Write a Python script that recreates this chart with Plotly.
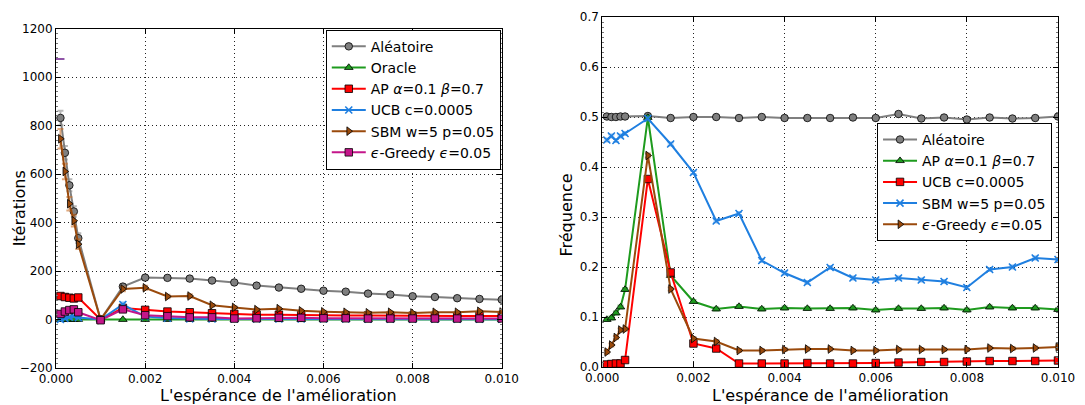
import plotly.graph_objects as go

# ---------------- data ----------------
xs = [0.0001, 0.0002, 0.0003, 0.0004, 0.0005, 0.001, 0.0015, 0.002, 0.0025, 0.003,
      0.0035, 0.004, 0.0045, 0.005, 0.0055, 0.006, 0.0065, 0.007, 0.0075, 0.008,
      0.0085, 0.009, 0.0095, 0.01]

# Left panel: iterations
it_alea = [832, 688, 554, 446, 336, 0, 136, 173, 172, 169, 161, 153, 140, 132, 127, 119,
           115, 107, 103, 96, 93, 88, 85, 82]
it_oracle = [0, 0, 0, 0, 0, 0, 0, 0, 0, 0, 0, 0, 0, 0, 0, 0, 0, 0, 0, 0, 0, 0, 0, 0]
it_ap = [97, 93, 90, 87, 91, 0, 48, 40, 33, 30, 26, 23, 20, 20, 18, 18, 17, 17, 16, 16,
         15, 15, 15, 15]
it_ucb = [0, 5, 10, 14, 8, 0, 62, 12, 6, 3, 2, 2, 2, 2, 2, 2, 2, 1, 1, 1, 1, 1, 1, 1]
it_sbm = [746, 611, 478, 408, 311, 0, 126, 131, 95, 97, 59, 50, 41, 45, 36, 32, 30, 28,
          30, 27, 30, 30, 34, 31]
it_eps = [23, 33, 39, 42, 30, -3, 42, 18, 14, 9, 9, 4, 5, 7, 7, 5, 5, 4, 4, 4, 4, 4, 4, 4]

err_alea = [30, 28, 25, 22, 20, 3, 10, 8, 7, 7, 6, 6, 6, 5, 5, 5, 5, 5, 5, 5, 5, 5, 5, 5]
err_oracle = [1, 1, 1, 1, 1, 1, 1, 1, 1, 1, 1, 1, 1, 1, 1, 1, 1, 1, 1, 1, 1, 1, 1, 1]
err_ap = [5, 5, 5, 5, 5, 2, 5, 4, 4, 4, 3, 3, 3, 3, 3, 3, 3, 3, 3, 3, 3, 3, 3, 3]
err_ucb = [3, 3, 4, 4, 3, 1, 8, 3, 2, 2, 1, 1, 1, 1, 1, 1, 1, 1, 1, 1, 1, 1, 1, 1]
err_sbm = [40, 32, 28, 24, 20, 3, 9, 8, 7, 7, 5, 5, 4, 4, 4, 4, 4, 4, 4, 4, 4, 4, 4, 4]
err_eps = [5, 5, 6, 6, 5, 2, 6, 4, 3, 3, 2, 2, 2, 2, 2, 2, 2, 2, 2, 2, 2, 2, 2, 2]

stray_x = [0.00008]
stray_y = [1075]

# Right panel: frequency
fr_alea = [0.501, 0.500, 0.500, 0.501, 0.501, 0.502, 0.498, 0.500, 0.500, 0.498, 0.500,
           0.498, 0.498, 0.498, 0.499, 0.498, 0.506, 0.497, 0.499, 0.495, 0.499, 0.497,
           0.498, 0.501]
fr_ap = [0.095, 0.098, 0.108, 0.120, 0.155, 0.499, 0.183, 0.131, 0.116, 0.121, 0.116,
         0.118, 0.117, 0.117, 0.118, 0.114, 0.117, 0.117, 0.118, 0.114, 0.120, 0.118,
         0.118, 0.115]
fr_ucb = [0.005, 0.006, 0.007, 0.007, 0.014, 0.376, 0.189, 0.047, 0.037, 0.007, 0.007,
          0.007, 0.008, 0.007, 0.007, 0.008, 0.009, 0.010, 0.010, 0.011, 0.012, 0.012,
          0.012, 0.013]
fr_sbm = [0.454, 0.462, 0.453, 0.462, 0.467, 0.497, 0.446, 0.389, 0.292, 0.307, 0.213,
          0.188, 0.169, 0.199, 0.178, 0.174, 0.178, 0.174, 0.171, 0.159, 0.195, 0.200,
          0.218, 0.215]
fr_eps = [0.030, 0.044, 0.059, 0.074, 0.076, 0.423, 0.156, 0.057, 0.051, 0.033, 0.033,
          0.035, 0.036, 0.036, 0.033, 0.033, 0.035, 0.035, 0.035, 0.035, 0.038, 0.037,
          0.038, 0.040]
fr_err = [0.003, 0.003, 0.003, 0.003, 0.003, 0.004, 0.003, 0.003, 0.003, 0.003, 0.003,
          0.003, 0.003, 0.003, 0.003, 0.003, 0.003, 0.003, 0.003, 0.003, 0.003, 0.003,
          0.003, 0.003]

left_names = ["Aléatoire", "Oracle", "AP <i>α</i>=0.1 <i>β</i>=0.7", "UCB c=0.0005",
              "SBM w=5 p=0.05", "<i>ϵ</i>-Greedy <i>ϵ</i>=0.05"]
right_names = ["Aléatoire", "AP <i>α</i>=0.1 <i>β</i>=0.7", "UCB c=0.0005",
               "SBM w=5 p=0.05", "<i>ϵ</i>-Greedy <i>ϵ</i>=0.05"]

x_ticks = [0.0, 0.002, 0.004, 0.006, 0.008, 0.010]
x_title = "L'espérance de l'amélioration"

# ---------------- styles ----------------
GREY = "#7f7f7f"
GREEN = "#1e9b1e"
RED = "#ff0000"
BLUE = "#1f7fe0"
BROWN = "#9a4a0c"
MAG = "#c4168a"

sty = {
    "grey": dict(color=GREY, symbol="circle", err="rgba(127,127,127,0.55)"),
    "green": dict(color=GREEN, symbol="triangle-up", err="rgba(30,155,30,0.55)"),
    "red": dict(color=RED, symbol="square", err="rgba(255,0,0,0.45)"),
    "blue": dict(color=BLUE, symbol="x-thin", err="rgba(31,127,224,0.5)"),
    "brown": dict(color=BROWN, symbol="triangle-right", err="rgba(200,110,40,0.6)"),
    "mag": dict(color=MAG, symbol="square", err="rgba(196,22,138,0.5)"),
}

FONT = "DejaVu Sans"
fig = go.Figure()


def add(x, y, err, name, key, xa, ya, legend):
    s = sty[key]
    if s["symbol"] == "x-thin":
        marker = dict(symbol="x-thin", size=7, color=s["color"],
                      line=dict(color=s["color"], width=1.6))
    else:
        marker = dict(symbol=s["symbol"], size=7.5, color=s["color"],
                      line=dict(color="black", width=0.8))
    fig.add_trace(go.Scatter(
        x=x, y=y, name=name, mode="lines+markers",
        line=dict(color=s["color"], width=2), marker=marker,
        error_y=dict(type="data", array=err, visible=True, color=s["err"],
                     thickness=2, width=3),
        xaxis=xa, yaxis=ya, legend=legend))


add(xs, it_alea, err_alea, left_names[0], "grey", "x", "y", "legend")
add(xs, it_oracle, err_oracle, left_names[1], "green", "x", "y", "legend")
add(xs, it_ap, err_ap, left_names[2], "red", "x", "y", "legend")
add(xs, it_ucb, err_ucb, left_names[3], "blue", "x", "y", "legend")
add(xs, it_sbm, err_sbm, left_names[4], "brown", "x", "y", "legend")
add(xs, it_eps, err_eps, left_names[5], "mag", "x", "y", "legend")

fig.add_trace(go.Scatter(x=stray_x, y=stray_y, mode="markers", showlegend=False,
                         marker=dict(symbol="line-ew", size=7,
                                     line=dict(color="#6a1b8a", width=1.5)),
                         xaxis="x", yaxis="y", hoverinfo="skip"))

add(xs, fr_alea, fr_err, right_names[0], "grey", "x2", "y2", "legend2")
add(xs, fr_ap, fr_err, right_names[1], "green", "x2", "y2", "legend2")
add(xs, fr_ucb, fr_err, right_names[2], "red", "x2", "y2", "legend2")
add(xs, fr_sbm, fr_err, right_names[3], "blue", "x2", "y2", "legend2")
add(xs, fr_eps, fr_err, right_names[4], "brown", "x2", "y2", "legend2")

# ---------------- layout ----------------
ML, MR, MT, MB = 56, 22, 10, 37
W, H = 1085, 405
PW, PH = W - ML - MR, H - MT - MB


def px(xp):
    return (xp - ML) / PW


def py(yp):
    return (H - MB - yp) / PH


axis_common = dict(
    showline=True, linecolor="black", linewidth=1, mirror="ticks",
    ticks="inside", ticklen=5, tickcolor="black",
    showgrid=True, gridcolor="#222", griddash="1px,3px", gridwidth=1,
    zeroline=False, tickfont=dict(family=FONT, size=12, color="black"),
)

fig.update_layout(
    width=W, height=H,
    margin=dict(l=ML, r=MR, t=MT, b=MB),
    paper_bgcolor="white", plot_bgcolor="white",
    font=dict(family=FONT, color="black"),
    xaxis=dict(domain=[0, px(504)], range=[0, 0.01], tickvals=x_ticks,
               tickformat=".3f", anchor="y", **axis_common),
    yaxis=dict(domain=[0, 1 - (22 - MT) / PH], range=[-200, 1200], dtick=200,
               anchor="x",
               minor=dict(ticks="inside", ticklen=2, dtick=20, tickcolor="#777",
                          showgrid=False),
               **axis_common),
    xaxis2=dict(domain=[px(605), 1], range=[0, 0.01], tickvals=x_ticks,
                tickformat=".3f", anchor="y2", **axis_common),
    yaxis2=dict(domain=[py(367), 1], range=[0, 0.7], dtick=0.1, tickformat=".1f",
                anchor="x2",
                minor=dict(ticks="inside", ticklen=2, dtick=0.01, tickcolor="#777",
                           showgrid=False),
                **axis_common),
    legend=dict(x=px(503), y=py(23), xanchor="right", yanchor="top",
                bgcolor="white", bordercolor="black", borderwidth=1,
                font=dict(family=FONT, size=14, color="black"),
                tracegroupgap=0, itemwidth=34),
    legend2=dict(x=px(1057), y=py(118), xanchor="right", yanchor="top",
                 bgcolor="white", bordercolor="black", borderwidth=1,
                 font=dict(family=FONT, size=14, color="black"),
                 tracegroupgap=0, itemwidth=34),
    showlegend=True,
)

ann_font = dict(family=FONT, size=16, color="black")
fig.add_annotation(text=x_title, x=px(280), y=py(396), xref="paper", yref="paper",
                   showarrow=False, font=ann_font, xanchor="center", yanchor="middle")
fig.add_annotation(text=x_title, x=px(834), y=py(396), xref="paper", yref="paper",
                   showarrow=False, font=ann_font, xanchor="center", yanchor="middle")
fig.add_annotation(text="Itérations", x=px(19), y=py(205), xref="paper", yref="paper",
                   showarrow=False, font=ann_font, textangle=-90,
                   xanchor="center", yanchor="middle")
fig.add_annotation(text="Fréquence", x=px(569), y=py(212), xref="paper", yref="paper",
                   showarrow=False, font=ann_font, textangle=-90,
                   xanchor="center", yanchor="middle")

fig.write_html("out.html", config={"displayModeBar": False},
               post_script="document.body.style.margin='0';"
                           "document.body.style.overflow='hidden';")
